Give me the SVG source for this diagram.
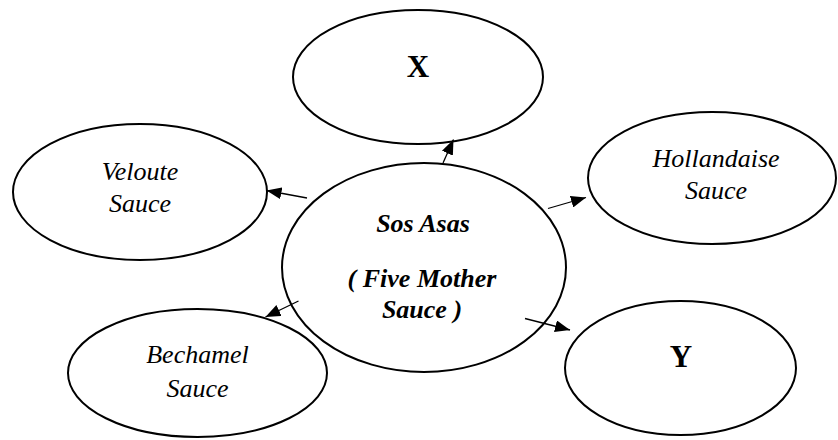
<svg xmlns="http://www.w3.org/2000/svg" width="838" height="440" viewBox="0 0 838 440">
<style>
.node ellipse{fill:#fff;stroke:#000;stroke-width:2}
.lbl{font-family:"Liberation Serif",serif;font-size:26px;font-style:italic;text-anchor:middle;fill:#000}
.b{font-weight:bold}
.big{font-family:"Liberation Serif",serif;font-size:31px;font-weight:bold;text-anchor:middle;fill:#000}
.conn line{stroke:#000;stroke-width:1.3;marker-end:url(#ah)}
</style>
<defs>
<marker id="ah" markerUnits="userSpaceOnUse" viewBox="0 0 15 12" refX="15" refY="6" markerWidth="15" markerHeight="12" orient="auto">
<path d="M0,0 L15,6 L0,12 Z" fill="#000"/>
</marker>
</defs>
<rect width="838" height="440" fill="#fff"/>
<g id="node-x" class="node">
<ellipse cx="418" cy="77" rx="125" ry="67"/>
<text class="big" x="418" y="77">X</text>
</g>
<g id="node-veloute" class="node">
<ellipse cx="140" cy="192" rx="127" ry="68"/>
<text class="lbl" x="140" y="180">Veloute</text>
<text class="lbl" x="140" y="212">Sauce</text>
</g>
<g id="node-hollandaise" class="node">
<ellipse cx="712" cy="178" rx="124" ry="66"/>
<text class="lbl" x="716" y="167">Hollandaise</text>
<text class="lbl" x="716" y="199">Sauce</text>
</g>
<g id="node-center" class="node">
<ellipse cx="424" cy="267.5" rx="142" ry="104.5"/>
<text class="lbl b" x="423" y="232">Sos Asas</text>
<text class="lbl b" x="422" y="287">( Five Mother</text>
<text class="lbl b" x="422" y="318">Sauce )</text>
</g>
<g id="node-bechamel" class="node">
<ellipse cx="197.5" cy="373" rx="129.5" ry="64"/>
<text class="lbl" x="197.5" y="363">Bechamel</text>
<text class="lbl" x="197.5" y="397">Sauce</text>
</g>
<g id="node-y" class="node">
<ellipse cx="680.5" cy="368" rx="115.5" ry="67"/>
<text class="big" x="681" y="367">Y</text>
</g>
<g id="connectors" class="conn">
<line x1="443" y1="163" x2="453.5" y2="139.5"/>
<line x1="307" y1="198" x2="266.5" y2="190.5"/>
<line x1="548" y1="208.5" x2="586" y2="197.5"/>
<line x1="298.5" y1="301" x2="265.5" y2="317"/>
<line x1="525" y1="318.5" x2="570" y2="330"/>
</g>
</svg>
